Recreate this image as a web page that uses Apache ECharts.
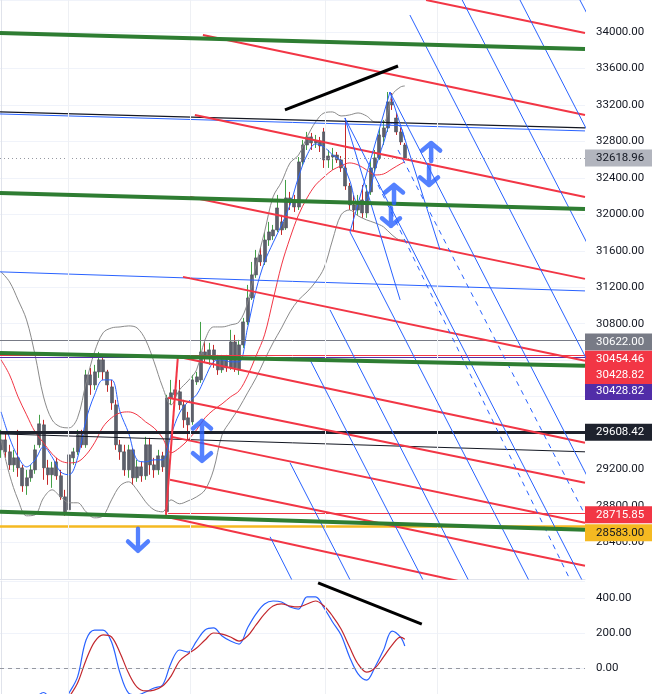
<!DOCTYPE html>
<html><head><meta charset="utf-8">
<script src="https://cdn.jsdelivr.net/npm/echarts@6/dist/echarts.min.js"></script>
<style>html,body{margin:0;padding:0;background:#fff}#c{width:652px;height:694px}</style>
</head><body><div id="c"></div>
<script>
// ---- candles (index = bar number) ----
const openP=[29417,29526,29395,29252,29329,29219,29022,29110,29197,29472,29691,29219,29143,29285,29132,28901,28759,29329,29395,29581,29472,30239,30129,30272,30404,30272,30107,29910,29472,29395,29197,29417,29110,29230,29132,29472,29252,29197,29351,28740,29987,30020,30053,29910,29768,29724,30162,30184,30491,30426,30513,30404,30294,30404,30316,30601,30294,30568,30820,31083,31336,31555,31478,31719,31763,31829,31917,31851,32180,32136,32081,32575,32761,32849,32783,32805,32904,32597,32629,32651,32597,32509,32311,32103,32048,32158,32015,32246,32509,32619,32849,32948,33233,33057,32904,32761];
const closeP=[29526,29395,29252,29329,29219,29022,29110,29197,29417,29702,29219,29143,29219,29132,28901,28737,29362,29395,29581,29472,30239,30129,30272,30404,30272,30129,29932,29472,29395,29197,29417,29110,29230,29132,29472,29252,29197,29351,29230,29987,30042,30075,29910,29746,29691,30184,30217,30491,30426,30513,30404,30294,30404,30316,30601,30316,30568,30820,31083,31336,31522,31478,31719,31807,31829,32070,31829,32180,32136,32081,32575,32761,32849,32783,32805,32750,32597,32640,32651,32597,32509,32311,32103,32048,32125,32015,32246,32509,32619,32871,32948,33233,33200,32904,32794,32618.96];
const highP=[29636,29614,29472,29417,29636,29252,29197,29252,29472,29801,29746,29307,29285,29329,29197,28978,29417,29439,29636,29636,30294,30316,30349,30491,30458,30294,30184,29965,29526,29472,29472,29439,29307,29285,29559,29548,29329,29417,29395,30020,30184,30162,30184,29965,29833,30239,30272,30820,30623,30590,30568,30458,30458,30458,30733,30678,30623,30864,31226,31478,31610,31632,31807,31917,31884,32213,31994,32377,32246,32213,32629,32816,32904,32893,32871,32849,32948,32706,32728,32684,32640,33057,32344,32213,32213,32322,32322,32597,32706,32948,33035,33342,33331,33112,32948,32783];
const lowP=[29329,29329,29197,29175,29121,28956,28923,29066,29154,29439,29088,29033,29000,29088,28868,28693,28737,29252,29362,29439,29439,30020,30075,30206,30184,30053,29855,29417,29307,29132,29110,29033,29066,29066,29088,29143,29110,29143,29175,28716,29910,29965,29855,29658,29526,29691,30129,30151,30382,30349,30316,30239,30261,30272,30294,30272,30239,30535,30787,31061,31303,31434,31445,31654,31719,31807,31774,31829,32048,32026,32048,32531,32706,32706,32728,32684,32509,32509,32487,32564,32465,32268,32048,31829,31994,31961,31961,32213,32465,32597,32761,32904,33145,32871,32761,32597];

// ---- indicator readings, sampled at these bars ----
const sampleBars=[0,2,4,6,8,10,12,14,16,18,20,22,24,26,28,30,32,34,36,38,40,42,44,46,48,50,52,54,56,58,60,62,64,66,68,70,72,74,76,78,80,82,84,86,88,90,92,94,95];
const maFast=[29833,29548,29340,29230,29307,29450,29340,29175,29143,29329,29746,30020,30184,30184,29833,29603,29307,29285,29307,29307,29581,29822,29943,30020,30206,30382,30404,30382,30382,30754,31171,31478,31687,31884,32103,32410,32651,32772,32739,32651,32586,32377,32125,32158,32487,32783,33002,32958,32816];
const maSlow=[30404,30239,29998,29801,29614,29494,29373,29296,29274,29285,29362,29494,29669,29768,29822,29833,29801,29724,29658,29548,29384,29439,29526,29636,29768,29855,29921,29998,30064,30228,30447,30678,31061,31445,31741,31994,32180,32322,32410,32487,32531,32564,32542,32487,32432,32443,32498,32553,32575];
const bbUpper=[31369,31259,31061,30842,30458,29998,29746,29669,29658,29768,30151,30491,30700,30754,30765,30776,30754,30623,30382,30107,29910,30075,30173,30294,30623,30765,30765,30787,30820,31029,31445,31807,32191,32355,32564,32651,32849,33013,33112,33123,33079,33090,33112,33079,33013,33013,33309,33397,33408];
const bbLower=[29526,29143,28868,28693,28704,28890,28978,28901,28836,28836,28737,28671,28693,28868,29022,29066,28978,28847,28759,28737,28868,28825,28857,28901,28978,29197,29581,29735,29877,30042,30206,30404,30590,30754,30930,31061,31149,31259,31412,31719,31994,32048,31983,31939,31906,31862,31774,31719,31719];
const oscFast=[null,null,null,null,-175,-140,-190,-220,-143,-51,160,217,217,149,-29,-143,-154,-137,-114,-97,29,103,91,154,217,229,183,154,137,229,309,366,383,377,349,337,406,406,343,263,189,63,-34,-69,6,103,211,177,126];
const oscSlow=[null,null,null,null,null,null,null,-240,-166,-86,46,149,189,177,86,-29,-109,-131,-126,-103,-46,40,80,114,160,200,194,177,154,183,246,309,354,366,354,349,366,383,354,297,223,120,23,-23,0,63,131,177,164];

// ---- drawings: [bar1, price1, bar2, price2] ----
const greenLines=[[-0.25,33989,137.4,33814],[-0.25,32235,137.4,32059],[-0.25,30480,137.4,30338],[-0.25,28737,137.4,28540]];
const redLines=[[100.0,34351,137.4,33989],[47.5,33967,137.4,33090],[45.6,33090,137.4,32191],[44.5,32191,137.4,31292],[42.8,31314,137.4,30393],[41.6,30437,137.4,29494],[40.2,29559,137.4,28616],[39.3,29987,137.4,29055],[39.75,29088,137.4,28145],[38.8,28682,137.4,27673],[38.8,28704,41.6,30437]];
const blueLines=[[136.2,34351,141.0,33923],[122.1,34351,141.0,32640],[108.5,34351,141.0,31401],[96.2,34186,141.0,30119],[91.5,33342,141.0,28847],[80.9,33057,137.4,27925],[82.1,31807,124.5,27958],[77.4,30952,110.3,27958],[72.7,30404,99.75,27947],[68.0,29274,82.6,27947],[63.3,28463,68.9,27947],[80.9,33057,93.9,31061],[82.1,31807,91.5,33342],[91.5,33342,103.3,31610]];
const blueDashed=[[93.4,32706,137.4,28704],[88.7,32322,133.9,27991]];
const thinLines=[[-0.25,33123,137.4,32948,'#131722',1.2],[-0.25,33101,137.4,32915,'#2962ff',1],[-0.25,29592,137.4,29395,'#131722',1],[-0.25,31369,137.4,31160,'#2962ff',1]];
const trendMain=[66.8,33145,93.4,33627];
const trendOsc=[74.6,486,99.0,251];
const upArrows=[[47.28,29636],[92.46,32224],[101.2,32684]];
const downArrows=[[47.28,29395],[91.75,31972],[100.7,32421]];
const bigDownArrow=[[32.22,28430]];
const monthBars=[15.75,44.45,76.2,102.6];
const lastPrice=32618.96;

const FONT='Roboto';
const chart=echarts.init(document.getElementById('c'),null,{renderer:'canvas'});
const seg=(s,color,width,type,z,xi,yi)=>({type:'line',xAxisIndex:xi||0,yAxisIndex:yi||0,data:[[s[0],s[1]],[s[2],s[3]]],showSymbol:false,symbol:'none',silent:true,z:z||5,lineStyle:{color:color,width:width,type:type||'solid'},animation:false});
const series=[];
// wicks
series.push({type:'candlestick',xAxisIndex:0,yAxisIndex:0,z:2,barWidth:1,
 data:openP.map((o,i)=>[i,o,closeP[i],lowP[i],highP[i]]),encode:{x:0,y:[1,2,3,4]},
 itemStyle:{color:'#43a047',color0:'#c62828',borderColor:'#43a047',borderColor0:'#c62828',borderWidth:1}});
// bodies
series.push({type:'candlestick',xAxisIndex:0,yAxisIndex:0,z:2,barWidth:3.4,
 data:openP.map((o,i)=>[i,o,closeP[i],Math.min(o,closeP[i]),Math.max(o,closeP[i])]),encode:{x:0,y:[1,2,3,4]},
 itemStyle:{color:'#5d606b',color0:'#5d606b',borderColor:'#4f525c',borderColor0:'#4f525c',borderWidth:0.6},
 markLine:{symbol:'none',silent:true,animation:false,
  label:{position:'end',distance:0,fontFamily:FONT,fontSize:11.5,padding:[3,9,2,11],color:'#fff'},
  data:[
   {yAxis:30622,lineStyle:{color:'#787b86',width:1,type:'solid'},label:{formatter:'30622.00',backgroundColor:'#787b86',offset:[0,2]}},
   {yAxis:30454.46,lineStyle:{color:'#f23645',width:1,type:'solid'},label:{formatter:'30454.46',backgroundColor:'#f23645',offset:[0,4]}},
   {yAxis:30428.82,lineStyle:{color:'#512da8',width:1,type:'solid'},label:{formatter:'30428.82',backgroundColor:'#512da8',offset:[0,34]}},
   {yAxis:30428.821,lineStyle:{color:'rgba(0,0,0,0)',width:1,type:'solid'},label:{formatter:'30428.82',backgroundColor:'#f23645',offset:[0,18]}},
   {yAxis:29608.42,lineStyle:{color:'#1e222d',width:3,type:'solid'},label:{formatter:'29608.42',backgroundColor:'#1e222d',offset:[0,0]}},
   {yAxis:28583,lineStyle:{color:'#f5b921',width:2.5,type:'solid'},label:{formatter:'28583.00',backgroundColor:'#f5b921',color:'#131722',offset:[0,7]}},
   [{coord:[39.3,28715.85],lineStyle:{color:'#f23645',width:1,type:'solid'},label:{formatter:'28715.85',backgroundColor:'#f23645',offset:[0,1]}},{coord:[137.4,28715.85],lineStyle:{color:'#f23645',width:1,type:'solid'},label:{formatter:'28715.85',backgroundColor:'#f23645',offset:[0,1]}}],
   {yAxis:lastPrice,lineStyle:{color:'#9598a1',width:1,type:[1,3]},label:{formatter:'32618.96',backgroundColor:'#b2b5be',color:'#131722',offset:[0,0]}}
  ]}
});
const maLine=(vals,color,z,extra)=>Object.assign({type:'line',xAxisIndex:0,yAxisIndex:0,data:sampleBars.map((b,k)=>[b,vals[k]]),showSymbol:false,symbol:'none',smooth:0.35,silent:true,z:z,lineStyle:{color:color,width:1}},extra||{});
series.push(maLine(bbUpper,'#8a8a8a',3,{markLine:{symbol:'none',silent:true,label:{show:false},lineStyle:{color:'#eef0f4',width:1,type:'solid'},data:monthBars.map(b=>({xAxis:b}))}}));
series.push(maLine(bbLower,'#8a8a8a',3));
series.push(maLine(maSlow,'#f23645',3));
series.push(maLine(maFast,'#2962ff',3));
thinLines.forEach(s=>series.push(seg(s,s[4],s[5],'solid',4)));
greenLines.forEach(s=>series.push(seg(s,'#2e7d32',4,'solid',6)));
redLines.forEach(s=>series.push(seg(s,'#f23645',2,'solid',5)));
blueLines.forEach(s=>series.push(seg(s,'#2962ff',1,'solid',5)));
blueDashed.forEach(s=>series.push(seg(s,'#2962ff',1,[5,5],5)));
series.push(seg(trendMain,'#000',3,'solid',7));
const arrowStyle={color:'rgba(0,0,0,0)',borderColor:'#2962ff',borderWidth:4.5,borderCap:'round',borderJoin:'round'};
const upPath='path://M1,9 L9,1 L17,9 M9,1 L9,20', downPath='path://M9,0 L9,19 M1,11 L9,19 L17,11';
series.push({type:'scatter',xAxisIndex:0,yAxisIndex:0,z:8,silent:true,data:upArrows,symbol:upPath,symbolSize:[18,18],itemStyle:arrowStyle});
series.push({type:'scatter',xAxisIndex:0,yAxisIndex:0,z:8,silent:true,data:downArrows,symbol:downPath,symbolSize:[18,18],itemStyle:arrowStyle});
series.push({type:'scatter',xAxisIndex:0,yAxisIndex:0,z:8,silent:true,data:bigDownArrow,symbol:downPath,symbolSize:[20,22],itemStyle:arrowStyle});
// oscillator
const oscLine=(vals,color,extra)=>Object.assign({type:'line',xAxisIndex:1,yAxisIndex:1,data:sampleBars.map((b,k)=>[b,vals[k]]),showSymbol:false,symbol:'none',smooth:0.35,silent:true,z:3,connectNulls:false,lineStyle:{color:color,width:1.2}},extra||{});
series.push(oscLine(oscFast,'#2962ff',{markLine:{symbol:'none',silent:true,label:{show:false},data:[
  {yAxis:0,lineStyle:{color:'#9598a1',width:1,type:[4,4]}},
  ...monthBars.map(b=>({xAxis:b,lineStyle:{color:'#eef0f4',width:1,type:'solid'}}))]}}));
series.push(oscLine(oscSlow,'#c2272d'));
series.push(seg(trendOsc,'#000',3,'solid',7,1,1));

chart.setOption({
 animation:false,
 backgroundColor:'#ffffff',
 textStyle:{fontFamily:FONT},
 grid:[{left:0,top:0,width:585,height:579,containLabel:false,outerBoundsMode:'none'},{left:0,top:581,width:585,height:122,containLabel:false,outerBoundsMode:'none'}],
 xAxis:[
  {type:'value',gridIndex:0,min:-0.25,max:137.4,axisLabel:{show:false},axisTick:{show:false},splitLine:{show:false},axisLine:{show:true,lineStyle:{color:'#e0e3eb'}}},
  {type:'value',gridIndex:1,min:-0.25,max:137.4,show:false}
 ],
 yAxis:[
  {type:'value',gridIndex:0,position:'right',min:28000,max:34351,interval:400,
   axisLabel:{formatter:v=>v.toFixed(2),color:'#131722',fontSize:11.5,fontFamily:FONT,margin:11,showMinLabel:false,showMaxLabel:false},
   axisTick:{show:false},axisLine:{show:true,lineStyle:{color:'#e0e3eb'}},splitLine:{lineStyle:{color:'#f0f3fa'}}},
  {type:'value',gridIndex:1,position:'right',min:-200,max:497.2,interval:200,
   axisLabel:{formatter:v=>v.toFixed(2),color:'#131722',fontSize:11.5,fontFamily:FONT,margin:11,showMinLabel:false,showMaxLabel:false},
   axisTick:{show:false},axisLine:{show:true,lineStyle:{color:'#e0e3eb'}},splitLine:{lineStyle:{color:'#f0f3fa'}}}
 ],
 series:series
});
</script></body></html>
